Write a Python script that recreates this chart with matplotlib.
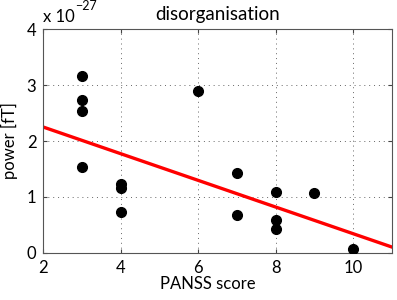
import matplotlib.pyplot as plt

# PANSS disorganisation score vs power (values in units of 1e-27 fT)
panss = [3, 3, 3, 3, 4, 4, 4, 6, 7, 7, 8, 8, 8, 9, 10]
power = [3.16, 2.74, 2.53, 1.54, 1.23, 1.16, 0.73, 2.89, 1.43, 0.67,
         1.09, 0.59, 0.42, 1.07, 0.07]

# regression line end points
fit_x = [2, 11]
fit_y = [2.25, 0.10]

x_ticks = [2, 4, 6, 8, 10]
y_ticks = [0, 1, 2, 3, 4]

plt.rcParams['font.family'] = ['Lato', 'DejaVu Sans']
fig = plt.figure(figsize=(3.97, 3.0), dpi=100)
ax = fig.add_axes([0.109, 0.158, 0.878, 0.744])

ax.plot(fit_x, fit_y, color='red', linewidth=2.4, zorder=2)
ax.plot(panss, power, 'o', color='black', markersize=7, zorder=3)

ax.set_xlim(2, 11)
ax.set_ylim(0, 4)
ax.set_xticks(x_ticks)
ax.set_yticks(y_ticks)
ax.grid(True, linestyle=(0, (1, 4)), color='#666666', linewidth=0.7)
ax.tick_params(direction='in', top=True, right=True, labelsize=12, length=3,
               color='#444444', pad=5)
for s in ax.spines.values():
    s.set_color('#555555')

ax.set_xlabel('PANSS score', fontsize=12, labelpad=1)
ax.xaxis.set_label_coords(0.472, -0.105)
ax.set_ylabel('power [fT]', fontsize=12, labelpad=6)
ax.set_title('disorganisation', fontsize=13.5, pad=7)
fig.text(0.109, 0.927, 'x 10', fontsize=12, ha='left', va='baseline')
fig.text(0.19, 0.968, '\u221227', fontsize=9, ha='left', va='baseline')

fig.savefig('out.png', dpi=100)
